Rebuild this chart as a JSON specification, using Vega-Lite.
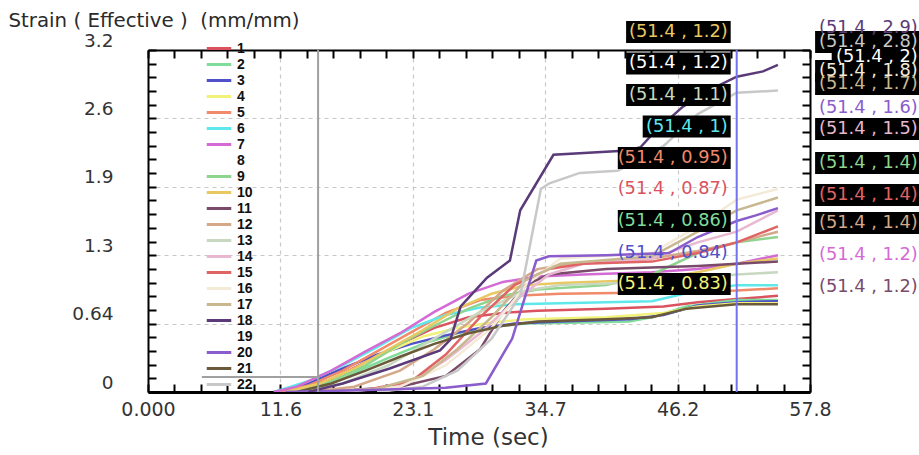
{
  "$schema": "https://vega.github.io/schema/vega-lite/v6.json",
  "width": 662,
  "height": 342,
  "autosize": {"type": "none"},
  "padding": {"left": 148, "top": 50, "right": 109, "bottom": 63},
  "background": "#ffffff",
  "config": {"view": {"stroke": null}, "font": "DejaVu Sans"},
  "datasets": {
    "series": [
      {"s":"8","t":12,"v":0},{"s":"8","t":16,"v":0.15},{"s":"8","t":20,"v":0.4},{"s":"8","t":24,"v":0.7},{"s":"8","t":28,"v":0.9},{"s":"8","t":32,"v":1.0},{"s":"8","t":40,"v":1.05},{"s":"8","t":48,"v":1.15},{"s":"8","t":51.4,"v":1.2},{"s":"8","t":55,"v":1.22},
      {"s":"19","t":20,"v":0},{"s":"19","t":26,"v":0.1},{"s":"19","t":30,"v":0.5},{"s":"19","t":33,"v":1.2},{"s":"19","t":35,"v":1.7},{"s":"19","t":40,"v":1.8},{"s":"19","t":48,"v":1.95},{"s":"19","t":51.4,"v":2.0},{"s":"19","t":55,"v":2.0},
      {"s":"1","t":11,"v":0},{"s":"1","t":13,"v":0.02},{"s":"1","t":16,"v":0.12},{"s":"1","t":19,"v":0.28},{"s":"1","t":22,"v":0.45},{"s":"1","t":25,"v":0.6},{"s":"1","t":28,"v":0.7},{"s":"1","t":31,"v":0.74},{"s":"1","t":34,"v":0.76},{"s":"1","t":40,"v":0.78},{"s":"1","t":45,"v":0.8},{"s":"1","t":48,"v":0.84},{"s":"1","t":51.4,"v":0.87},{"s":"1","t":55,"v":0.9},
      {"s":"2","t":12,"v":0},{"s":"2","t":15,"v":0.05},{"s":"2","t":18,"v":0.18},{"s":"2","t":21,"v":0.32},{"s":"2","t":24,"v":0.45},{"s":"2","t":27,"v":0.55},{"s":"2","t":30,"v":0.61},{"s":"2","t":33,"v":0.64},{"s":"2","t":38,"v":0.65},{"s":"2","t":42,"v":0.66},{"s":"2","t":44,"v":0.7},{"s":"2","t":47,"v":0.8},{"s":"2","t":51.4,"v":0.86},{"s":"2","t":55,"v":0.86},
      {"s":"3","t":11,"v":0},{"s":"3","t":14,"v":0.08},{"s":"3","t":17,"v":0.22},{"s":"3","t":20,"v":0.35},{"s":"3","t":23,"v":0.45},{"s":"3","t":26,"v":0.53},{"s":"3","t":29,"v":0.6},{"s":"3","t":32,"v":0.64},{"s":"3","t":36,"v":0.66},{"s":"3","t":42,"v":0.68},{"s":"3","t":45,"v":0.72},{"s":"3","t":48,"v":0.81},{"s":"3","t":51.4,"v":0.84},{"s":"3","t":55,"v":0.85},
      {"s":"4","t":12,"v":0},{"s":"4","t":15,"v":0.05},{"s":"4","t":18,"v":0.2},{"s":"4","t":21,"v":0.38},{"s":"4","t":24,"v":0.52},{"s":"4","t":27,"v":0.6},{"s":"4","t":30,"v":0.65},{"s":"4","t":33,"v":0.68},{"s":"4","t":40,"v":0.7},{"s":"4","t":45,"v":0.74},{"s":"4","t":48,"v":0.8},{"s":"4","t":51.4,"v":0.83},{"s":"4","t":55,"v":0.83},
      {"s":"5","t":11.5,"v":0},{"s":"5","t":14,"v":0.06},{"s":"5","t":17,"v":0.2},{"s":"5","t":20,"v":0.38},{"s":"5","t":23,"v":0.56},{"s":"5","t":26,"v":0.74},{"s":"5","t":29,"v":0.86},{"s":"5","t":32,"v":0.9},{"s":"5","t":36,"v":0.92},{"s":"5","t":44,"v":0.93},{"s":"5","t":51.4,"v":0.95},{"s":"5","t":55,"v":0.97},
      {"s":"6","t":11,"v":0},{"s":"6","t":14,"v":0.1},{"s":"6","t":17,"v":0.25},{"s":"6","t":20,"v":0.42},{"s":"6","t":23,"v":0.6},{"s":"6","t":26,"v":0.72},{"s":"6","t":29,"v":0.79},{"s":"6","t":32,"v":0.82},{"s":"6","t":36,"v":0.83},{"s":"6","t":44,"v":0.85},{"s":"6","t":48,"v":0.95},{"s":"6","t":51.4,"v":1.0},{"s":"6","t":55,"v":1.0},
      {"s":"7","t":11,"v":0},{"s":"7","t":13,"v":0.05},{"s":"7","t":16,"v":0.2},{"s":"7","t":19,"v":0.38},{"s":"7","t":22,"v":0.55},{"s":"7","t":25,"v":0.75},{"s":"7","t":28,"v":0.92},{"s":"7","t":31,"v":1.03},{"s":"7","t":34,"v":1.08},{"s":"7","t":38,"v":1.1},{"s":"7","t":44,"v":1.12},{"s":"7","t":48,"v":1.15},{"s":"7","t":51.4,"v":1.2},{"s":"7","t":55,"v":1.28},
      {"s":"9","t":13,"v":0},{"s":"9","t":16,"v":0.1},{"s":"9","t":19,"v":0.25},{"s":"9","t":22,"v":0.45},{"s":"9","t":25,"v":0.62},{"s":"9","t":28,"v":0.78},{"s":"9","t":31,"v":0.9},{"s":"9","t":34,"v":0.96},{"s":"9","t":40,"v":1.0},{"s":"9","t":44,"v":1.1},{"s":"9","t":48,"v":1.3},{"s":"9","t":51.4,"v":1.4},{"s":"9","t":55,"v":1.45},
      {"s":"10","t":12,"v":0},{"s":"10","t":15,"v":0.08},{"s":"10","t":18,"v":0.22},{"s":"10","t":21,"v":0.4},{"s":"10","t":24,"v":0.58},{"s":"10","t":27,"v":0.78},{"s":"10","t":30,"v":0.92},{"s":"10","t":33,"v":1.0},{"s":"10","t":36,"v":1.02},{"s":"10","t":44,"v":1.05},{"s":"10","t":48,"v":1.12},{"s":"10","t":51.4,"v":1.2},{"s":"10","t":55,"v":1.25},
      {"s":"11","t":14,"v":0},{"s":"11","t":18,"v":0.02},{"s":"11","t":22,"v":0.05},{"s":"11","t":26,"v":0.15},{"s":"11","t":29,"v":0.4},{"s":"11","t":31,"v":0.75},{"s":"11","t":33,"v":1.0},{"s":"11","t":35,"v":1.1},{"s":"11","t":40,"v":1.15},{"s":"11","t":48,"v":1.18},{"s":"11","t":51.4,"v":1.2},{"s":"11","t":55,"v":1.22},
      {"s":"12","t":14,"v":0},{"s":"12","t":18,"v":0.05},{"s":"12","t":22,"v":0.2},{"s":"12","t":25,"v":0.4},{"s":"12","t":28,"v":0.65},{"s":"12","t":31,"v":0.95},{"s":"12","t":34,"v":1.15},{"s":"12","t":37,"v":1.2},{"s":"12","t":44,"v":1.25},{"s":"12","t":48,"v":1.32},{"s":"12","t":51.4,"v":1.4},{"s":"12","t":55,"v":1.5},
      {"s":"13","t":13,"v":0},{"s":"13","t":17,"v":0.08},{"s":"13","t":21,"v":0.25},{"s":"13","t":25,"v":0.5},{"s":"13","t":29,"v":0.75},{"s":"13","t":33,"v":0.95},{"s":"13","t":36,"v":1.0},{"s":"13","t":44,"v":1.03},{"s":"13","t":51.4,"v":1.1},{"s":"13","t":55,"v":1.12},
      {"s":"14","t":16,"v":0},{"s":"14","t":20,"v":0.03},{"s":"14","t":23,"v":0.1},{"s":"14","t":26,"v":0.3},{"s":"14","t":29,"v":0.55},{"s":"14","t":32,"v":0.85},{"s":"14","t":35,"v":1.1},{"s":"14","t":38,"v":1.2},{"s":"14","t":44,"v":1.25},{"s":"14","t":48,"v":1.4},{"s":"14","t":51.4,"v":1.5},{"s":"14","t":55,"v":1.7},
      {"s":"15","t":15,"v":0},{"s":"15","t":19,"v":0.02},{"s":"15","t":23,"v":0.1},{"s":"15","t":26,"v":0.35},{"s":"15","t":29,"v":0.7},{"s":"15","t":32,"v":1.0},{"s":"15","t":35,"v":1.15},{"s":"15","t":38,"v":1.2},{"s":"15","t":44,"v":1.22},{"s":"15","t":48,"v":1.3},{"s":"15","t":51.4,"v":1.4},{"s":"15","t":55,"v":1.55},
      {"s":"16","t":17,"v":0},{"s":"16","t":22,"v":0.05},{"s":"16","t":26,"v":0.25},{"s":"16","t":30,"v":0.6},{"s":"16","t":33,"v":1.0},{"s":"16","t":36,"v":1.25},{"s":"16","t":44,"v":1.3},{"s":"16","t":48,"v":1.55},{"s":"16","t":51.4,"v":1.8},{"s":"16","t":55,"v":1.9},
      {"s":"17","t":15,"v":0},{"s":"17","t":20,"v":0.03},{"s":"17","t":24,"v":0.15},{"s":"17","t":27,"v":0.4},{"s":"17","t":30,"v":0.7},{"s":"17","t":33,"v":1.05},{"s":"17","t":36,"v":1.2},{"s":"17","t":44,"v":1.27},{"s":"17","t":48,"v":1.5},{"s":"17","t":51.4,"v":1.7},{"s":"17","t":55,"v":1.82},
      {"s":"21","t":13,"v":0},{"s":"21","t":16,"v":0.08},{"s":"21","t":19,"v":0.2},{"s":"21","t":22,"v":0.33},{"s":"21","t":25,"v":0.45},{"s":"21","t":28,"v":0.55},{"s":"21","t":31,"v":0.62},{"s":"21","t":34,"v":0.66},{"s":"21","t":40,"v":0.68},{"s":"21","t":44,"v":0.7},{"s":"21","t":47,"v":0.78},{"s":"21","t":51.4,"v":0.82},{"s":"21","t":55,"v":0.82},
      {"s":"22","t":20,"v":0},{"s":"22","t":24,"v":0.05},{"s":"22","t":27,"v":0.2},{"s":"22","t":30,"v":0.5},{"s":"22","t":32.5,"v":0.9},{"s":"22","t":34.3,"v":1.9},{"s":"22","t":35,"v":1.95},{"s":"22","t":37.7,"v":2.05},{"s":"22","t":41,"v":2.07},{"s":"22","t":45,"v":2.3},{"s":"22","t":48,"v":2.6},{"s":"22","t":51.4,"v":2.8},{"s":"22","t":55,"v":2.82},
      {"s":"20","t":12,"v":0},{"s":"20","t":20,"v":0.02},{"s":"20","t":26,"v":0.04},{"s":"20","t":29.5,"v":0.08},{"s":"20","t":31.8,"v":0.5},{"s":"20","t":33.9,"v":1.23},{"s":"20","t":35,"v":1.27},{"s":"20","t":40,"v":1.28},{"s":"20","t":45.5,"v":1.3},{"s":"20","t":48,"v":1.45},{"s":"20","t":51.4,"v":1.6},{"s":"20","t":53,"v":1.65},{"s":"20","t":55,"v":1.72},
      {"s":"18","t":14,"v":0},{"s":"18","t":17,"v":0.08},{"s":"18","t":21.1,"v":0.22},{"s":"18","t":25.5,"v":0.39},{"s":"18","t":26.4,"v":0.49},{"s":"18","t":27.3,"v":0.8},{"s":"18","t":29.6,"v":1.07},{"s":"18","t":31.6,"v":1.23},{"s":"18","t":32.5,"v":1.7},{"s":"18","t":35.4,"v":2.22},{"s":"18","t":41.9,"v":2.26},{"s":"18","t":43,"v":2.29},{"s":"18","t":44.1,"v":2.42},{"s":"18","t":46.7,"v":2.67},{"s":"18","t":49.5,"v":2.85},{"s":"18","t":51.4,"v":2.95},{"s":"18","t":53.7,"v":3.0},{"s":"18","t":55,"v":3.06}
    ],
    "cursor": [
      {"x1": 4.7, "x2": 14.85, "y1": 0.14, "y2": 0.14},
      {"x1": 14.85, "x2": 14.85, "y1": 0, "y2": 3.2}
    ],
    "marker": [{"t": 51.4}],
    "labelsL": [
      {"s":"10","txt":"(51.4 , 1.2)","t":51.4,"ly":3.368,"box":1},
      {"s":"8","txt":"(51.4 , 1.2)","t":51.4,"ly":3.074,"box":1},
      {"s":"13","txt":"(51.4 , 1.1)","t":51.4,"ly":2.779,"box":1},
      {"s":"6","txt":"(51.4 , 1)","t":51.4,"ly":2.484,"box":1},
      {"s":"5","txt":"(51.4 , 0.95)","t":51.4,"ly":2.189,"box":1},
      {"s":"1","txt":"(51.4 , 0.87)","t":51.4,"ly":1.895,"box":0},
      {"s":"2","txt":"(51.4 , 0.86)","t":51.4,"ly":1.6,"box":1},
      {"s":"3","txt":"(51.4 , 0.84)","t":51.4,"ly":1.305,"box":0},
      {"s":"4","txt":"(51.4 , 0.83)","t":51.4,"ly":1.011,"box":1}
    ],
    "labelsR": [
      {"s":"18","txt":"(51.4 , 2.9)","t":51.4,"ly":3.406,"box":0},
      {"s":"22","txt":"(51.4 , 2.8)","t":51.4,"ly":3.275,"box":1},
      {"s":"19","txt":"(51.4 , 2)","t":51.4,"ly":3.135,"box":1},
      {"s":"16","txt":"(51.4 , 1.8)","t":51.4,"ly":3.004,"box":1},
      {"s":"17","txt":"(51.4 , 1.7)","t":51.4,"ly":2.882,"box":1},
      {"s":"20","txt":"(51.4 , 1.6)","t":51.4,"ly":2.657,"box":0},
      {"s":"14","txt":"(51.4 , 1.5)","t":51.4,"ly":2.461,"box":1},
      {"s":"9","txt":"(51.4 , 1.4)","t":51.4,"ly":2.143,"box":1},
      {"s":"15","txt":"(51.4 , 1.4)","t":51.4,"ly":1.843,"box":1},
      {"s":"12","txt":"(51.4 , 1.4)","t":51.4,"ly":1.581,"box":1},
      {"s":"7","txt":"(51.4 , 1.2)","t":51.4,"ly":1.282,"box":0},
      {"s":"11","txt":"(51.4 , 1.2)","t":51.4,"ly":0.982,"box":0}
    ]
  },
  "resolve": {"axis": {"x": "independent", "y": "independent"}},
  "layer": [
    {
      "data": {"name": "series"},
      "mark": {"type": "line", "strokeWidth": 2.5, "clip": true},
      "encoding": {
        "x": {"field": "t", "type": "quantitative",
          "scale": {"domain": [0, 57.8], "nice": false, "zero": false},
          "axis": {
            "orient": "bottom",
            "values": [0,2.312,4.624,6.936,9.248,11.56,13.872,16.184,18.496,20.808,23.12,25.432,27.744,30.056,32.368,34.68,36.992,39.304,41.616,43.928,46.24,48.552,50.864,53.176,55.488,57.8],
            "labelExpr": "abs(datum.value/11.56 - round(datum.value/11.56)) < 0.001 ? (datum.value == 0 ? '0.000' : format(datum.value, '.1f')) : ''",
            "labelFont": "DejaVu Sans", "labelFontSize": 19, "labelColor": "#333333", "labelPadding": 16, "labelFlush": false, "labelOverlap": false,
            "domainColor": "#000000", "domainWidth": 3,
            "tickColor": "#000000", "tickWidth": 2, "tickSize": -8,
            "grid": true, "gridColor": "#c8c8c8", "gridDash": [4, 4], "gridWidth": 1.2,
            "gridOpacity": {"condition": {"test": "abs(datum.value/11.56 - round(datum.value/11.56)) < 0.001", "value": 1}, "value": 0},
            "title": "Time (sec)", "titleFont": "DejaVu Sans", "titleFontSize": 23, "titleFontWeight": "normal", "titleColor": "#333333",
            "titleX": 340, "titleY": 45, "titleAlign": "center", "titleBaseline": "middle"
          }
        },
        "y": {"field": "v", "type": "quantitative",
          "scale": {"domain": [0, 3.2], "nice": false, "zero": false},
          "axis": {
            "orient": "left",
            "values": [0,0.128,0.256,0.384,0.512,0.64,0.768,0.896,1.024,1.152,1.28,1.408,1.536,1.664,1.792,1.92,2.048,2.176,2.304,2.432,2.56,2.688,2.816,2.944,3.072,3.2],
            "labelExpr": "abs(datum.value/0.64 - round(datum.value/0.64)) < 0.001 ? (datum.value == 0 ? '0' : (datum.value < 1 ? '0.64' : format(datum.value, '.1f'))) : ''",
            "labelFont": "DejaVu Sans", "labelFontSize": 18.5, "labelColor": "#333333", "labelPadding": 43, "labelAlign": "right", "labelBaseline": "middle", "labelOffset": -10, "labelFlush": false, "labelOverlap": false,
            "domainColor": "#000000", "domainWidth": 2,
            "tickColor": "#000000", "tickWidth": 2, "tickSize": -8,
            "grid": true, "gridColor": "#c8c8c8", "gridDash": [4, 4], "gridWidth": 1.2,
            "gridOpacity": {"condition": {"test": "abs(datum.value/0.64 - round(datum.value/0.64)) < 0.001", "value": 1}, "value": 0},
            "title": "Strain ( Effective )\u00a0 (mm/mm)", "titleFont": "DejaVu Sans", "titleFontSize": 19.8, "titleFontWeight": "normal", "titleColor": "#2a2a2a",
            "titleAngle": 0, "titleX": -140, "titleY": -30, "titleAlign": "left", "titleBaseline": "middle"
          }
        },
        "color": {"field": "s", "type": "nominal",
          "scale": {
            "domain": ["1","2","3","4","5","6","7","8","9","10","11","12","13","14","15","16","17","18","19","20","21","22"],
            "range": ["#d9525e","#7fdc9a","#5050c8","#f2f27a","#f08a6a","#5ee8ec","#d46ad4","#ffffff","#8fd48f","#e8c860","#7a4a6a","#d4a888","#c8d8c0","#e8b8d0","#e06464","#f4ead8","#c8b890","#5a3a78","#ffffff","#8a5ccc","#6a5a3a","#c8c8c8"]
          },
          "legend": {
            "orient": "none", "legendX": 57, "legendY": -9, "title": null,
            "symbolType": "stroke", "symbolSize": 600, "symbolStrokeWidth": 3,
            "clipHeight": 15.14, "rowPadding": 0, "padding": 0,
            "labelFont": "Liberation Sans", "labelFontSize": 14, "labelFontWeight": "bold", "labelColor": "#111111", "labelOffset": 4,
            "symbolLimit": 0
          }
        }
      }
    },
    {
      "data": {"name": "cursor"},
      "mark": {"type": "rule", "color": "#a0a0a0", "strokeWidth": 2},
      "encoding": {
        "x": {"field": "x1", "type": "quantitative",
          "scale": {"domain": [0, 57.8], "nice": false, "zero": false},
          "axis": {
            "orient": "top", "title": null, "grid": false, "labelOpacity": 0,
            "values": [0,2.312,4.624,6.936,9.248,11.56,13.872,16.184,18.496,20.808,23.12,25.432,27.744,30.056,32.368,34.68,36.992,39.304,41.616,43.928,46.24,48.552,50.864,53.176,55.488,57.8],
            "domainColor": "#000000", "domainWidth": 2,
            "tickColor": "#000000", "tickWidth": 2, "tickSize": -8
          }
        },
        "x2": {"field": "x2"},
        "y": {"field": "y1", "type": "quantitative",
          "scale": {"domain": [0, 3.2], "nice": false, "zero": false},
          "axis": {
            "orient": "right", "title": null, "grid": false, "labelOpacity": 0,
            "values": [0,0.128,0.256,0.384,0.512,0.64,0.768,0.896,1.024,1.152,1.28,1.408,1.536,1.664,1.792,1.92,2.048,2.176,2.304,2.432,2.56,2.688,2.816,2.944,3.072,3.2],
            "domainColor": "#000000", "domainWidth": 2,
            "tickColor": "#000000", "tickWidth": 2, "tickSize": -8
          }
        },
        "y2": {"field": "y2"}
      }
    },
    {
      "data": {"name": "marker"},
      "mark": {"type": "rule", "color": "#7272ee", "strokeWidth": 2},
      "encoding": {
        "x": {"field": "t", "type": "quantitative", "scale": {"domain": [0, 57.8], "nice": false, "zero": false}, "axis": null},
        "y": {"datum": 0, "type": "quantitative", "scale": {"domain": [0, 3.2], "nice": false, "zero": false}, "axis": null},
        "y2": {"datum": 3.2}
      }
    },
    {
      "data": {"name": "labelsL"},
      "transform": [{"filter": "datum.box == 1"}],
      "mark": {"type": "rect", "color": "#000000", "xOffset": {"expr": "-(11 + 8.3*length(datum.txt))"}, "x2Offset": -6, "yOffset": -11, "y2Offset": 11},
      "encoding": {
        "x": {"field": "t", "type": "quantitative", "scale": {"domain": [0, 57.8], "nice": false, "zero": false}, "axis": null},
        "x2": {"field": "t"},
        "y": {"field": "ly", "type": "quantitative", "scale": {"domain": [0, 3.2], "nice": false, "zero": false}, "axis": null},
        "y2": {"field": "ly"}
      }
    },
    {
      "data": {"name": "labelsR"},
      "transform": [{"filter": "datum.box == 1"}],
      "mark": {"type": "rect", "color": "#000000", "xOffset": {"expr": "178 - 8.3*length(datum.txt)"}, "x2Offset": 184, "yOffset": -11, "y2Offset": 11},
      "encoding": {
        "x": {"field": "t", "type": "quantitative", "scale": {"domain": [0, 57.8], "nice": false, "zero": false}, "axis": null},
        "x2": {"field": "t"},
        "y": {"field": "ly", "type": "quantitative", "scale": {"domain": [0, 3.2], "nice": false, "zero": false}, "axis": null},
        "y2": {"field": "ly"}
      }
    },
    {
      "data": {"name": "labelsL"},
      "mark": {"type": "text", "align": "right", "baseline": "middle", "dx": -9, "font": "DejaVu Sans", "fontSize": 17.8},
      "encoding": {
        "x": {"field": "t", "type": "quantitative", "scale": {"domain": [0, 57.8], "nice": false, "zero": false}, "axis": null},
        "y": {"field": "ly", "type": "quantitative", "scale": {"domain": [0, 3.2], "nice": false, "zero": false}, "axis": null},
        "text": {"field": "txt"},
        "color": {"field": "s", "type": "nominal", "legend": null}
      }
    },
    {
      "data": {"name": "labelsR"},
      "mark": {"type": "text", "align": "right", "baseline": "middle", "dx": 181, "font": "DejaVu Sans", "fontSize": 17.8},
      "encoding": {
        "x": {"field": "t", "type": "quantitative", "scale": {"domain": [0, 57.8], "nice": false, "zero": false}, "axis": null},
        "y": {"field": "ly", "type": "quantitative", "scale": {"domain": [0, 3.2], "nice": false, "zero": false}, "axis": null},
        "text": {"field": "txt"},
        "color": {"field": "s", "type": "nominal", "legend": null}
      }
    }
  ]
}
